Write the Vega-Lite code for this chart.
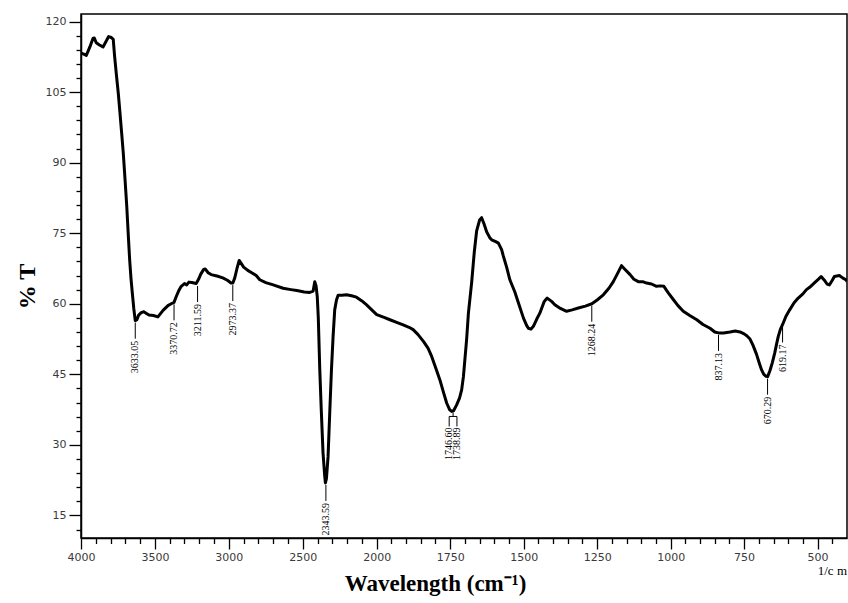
{
  "$schema": "https://vega.github.io/schema/vega-lite/v6.json",
  "width": 766,
  "height": 524,
  "autosize": {"type": "none"},
  "padding": {"left": 81, "top": 14, "right": 1, "bottom": 65},
  "background": "white",
  "title": {"text": "1/c m", "orient": "bottom", "anchor": "end", "frame": "group", "font": "Liberation Serif", "fontSize": 13, "fontWeight": "normal", "color": "black", "baseline": "alphabetic", "offset": -20},
  "config": {"view": {"stroke": "black", "strokeWidth": 1.5}},
  "datasets": {
    "spectrum": [
      {"wn":4000,"T":113.3},{"wn":3985,"T":113.1},{"wn":3964,"T":112.8},{"wn":3940,"T":114.6},{"wn":3919,"T":116.4},{"wn":3910,"T":116.5},{"wn":3897,"T":115.5},{"wn":3875,"T":115.0},{"wn":3851,"T":114.6},{"wn":3830,"T":115.8},{"wn":3813,"T":116.8},{"wn":3795,"T":116.6},{"wn":3782,"T":116.2},{"wn":3772,"T":112.4},{"wn":3760,"T":108.5},{"wn":3748,"T":104.8},{"wn":3737,"T":100.8},{"wn":3725,"T":96.3},{"wn":3714,"T":92.0},{"wn":3703,"T":86.8},{"wn":3691,"T":81.0},{"wn":3680,"T":74.5},{"wn":3671,"T":69.4},{"wn":3662,"T":65.4},{"wn":3653,"T":62.3},{"wn":3643,"T":59.0},{"wn":3633,"T":56.4},{"wn":3622,"T":56.6},{"wn":3610,"T":57.6},{"wn":3593,"T":58.1},{"wn":3575,"T":58.3},{"wn":3560,"T":58.0},{"wn":3540,"T":57.6},{"wn":3510,"T":57.5},{"wn":3480,"T":57.2},{"wn":3465,"T":57.8},{"wn":3445,"T":58.6},{"wn":3412,"T":59.6},{"wn":3390,"T":60.0},{"wn":3371,"T":60.3},{"wn":3355,"T":61.6},{"wn":3340,"T":62.7},{"wn":3322,"T":63.7},{"wn":3300,"T":64.3},{"wn":3285,"T":64.0},{"wn":3270,"T":64.6},{"wn":3250,"T":64.5},{"wn":3221,"T":64.3},{"wn":3205,"T":65.2},{"wn":3190,"T":66.3},{"wn":3170,"T":67.3},{"wn":3160,"T":67.4},{"wn":3140,"T":66.6},{"wn":3120,"T":66.2},{"wn":3080,"T":65.9},{"wn":3041,"T":65.5},{"wn":3010,"T":65.0},{"wn":2985,"T":64.4},{"wn":2973,"T":64.4},{"wn":2960,"T":65.5},{"wn":2945,"T":67.5},{"wn":2930,"T":69.2},{"wn":2921,"T":68.8},{"wn":2900,"T":67.8},{"wn":2872,"T":67.1},{"wn":2840,"T":66.5},{"wn":2815,"T":66.0},{"wn":2791,"T":65.1},{"wn":2750,"T":64.5},{"wn":2700,"T":64.0},{"wn":2633,"T":63.3},{"wn":2580,"T":63.0},{"wn":2540,"T":62.8},{"wn":2490,"T":62.5},{"wn":2453,"T":62.4},{"wn":2430,"T":62.7},{"wn":2419,"T":64.7},{"wn":2410,"T":63.8},{"wn":2402,"T":61.5},{"wn":2395,"T":57},{"wn":2385,"T":46},{"wn":2375,"T":37.5},{"wn":2363,"T":28.3},{"wn":2352,"T":23.5},{"wn":2347,"T":21.9},{"wn":2340,"T":22.8},{"wn":2329,"T":27.5},{"wn":2318,"T":36.5},{"wn":2306,"T":46},{"wn":2295,"T":53},{"wn":2284,"T":58.7},{"wn":2272,"T":60.8},{"wn":2261,"T":61.8},{"wn":2235,"T":61.8},{"wn":2205,"T":61.9},{"wn":2170,"T":61.7},{"wn":2137,"T":61.4},{"wn":2100,"T":60.6},{"wn":2070,"T":59.8},{"wn":2030,"T":58.6},{"wn":2000,"T":57.7},{"wn":1975,"T":57.1},{"wn":1955,"T":56.6},{"wn":1930,"T":56.0},{"wn":1910,"T":55.5},{"wn":1890,"T":55.0},{"wn":1876,"T":54.5},{"wn":1860,"T":53.5},{"wn":1841,"T":52.0},{"wn":1825,"T":50.5},{"wn":1813,"T":48.8},{"wn":1800,"T":46.5},{"wn":1785,"T":43.8},{"wn":1772,"T":41.0},{"wn":1762,"T":38.9},{"wn":1752,"T":37.5},{"wn":1745,"T":37.1},{"wn":1738,"T":37.3},{"wn":1728,"T":38.5},{"wn":1718,"T":40.0},{"wn":1711,"T":41.7},{"wn":1705,"T":44.5},{"wn":1700,"T":48.1},{"wn":1694,"T":52.5},{"wn":1688,"T":58.0},{"wn":1677,"T":64.5},{"wn":1668,"T":71.0},{"wn":1660,"T":75.5},{"wn":1650,"T":77.8},{"wn":1643,"T":78.3},{"wn":1635,"T":77.0},{"wn":1626,"T":75.3},{"wn":1615,"T":74.0},{"wn":1609,"T":73.6},{"wn":1595,"T":73.2},{"wn":1586,"T":72.9},{"wn":1575,"T":71.5},{"wn":1569,"T":70.1},{"wn":1558,"T":67.8},{"wn":1547,"T":65.1},{"wn":1530,"T":62.5},{"wn":1518,"T":60.2},{"wn":1501,"T":57.0},{"wn":1490,"T":55.4},{"wn":1484,"T":54.8},{"wn":1475,"T":54.6},{"wn":1467,"T":55.2},{"wn":1455,"T":56.8},{"wn":1445,"T":58.0},{"wn":1430,"T":60.5},{"wn":1420,"T":61.2},{"wn":1405,"T":60.5},{"wn":1394,"T":59.8},{"wn":1375,"T":59.0},{"wn":1354,"T":58.4},{"wn":1335,"T":58.7},{"wn":1314,"T":59.1},{"wn":1290,"T":59.5},{"wn":1268,"T":60.0},{"wn":1250,"T":60.8},{"wn":1229,"T":61.9},{"wn":1210,"T":63.3},{"wn":1195,"T":64.7},{"wn":1180,"T":66.5},{"wn":1167,"T":68.1},{"wn":1155,"T":67.3},{"wn":1138,"T":66.2},{"wn":1125,"T":65.2},{"wn":1110,"T":64.7},{"wn":1095,"T":64.7},{"wn":1082,"T":64.4},{"wn":1065,"T":64.2},{"wn":1048,"T":63.7},{"wn":1035,"T":63.8},{"wn":1023,"T":63.7},{"wn":1008,"T":62.3},{"wn":991,"T":60.9},{"wn":975,"T":59.6},{"wn":957,"T":58.4},{"wn":935,"T":57.5},{"wn":911,"T":56.6},{"wn":890,"T":55.6},{"wn":866,"T":54.8},{"wn":850,"T":54.0},{"wn":837,"T":53.8},{"wn":820,"T":53.8},{"wn":798,"T":54.0},{"wn":780,"T":54.2},{"wn":764,"T":54.0},{"wn":750,"T":53.6},{"wn":741,"T":53.2},{"wn":730,"T":52.5},{"wn":720,"T":51.2},{"wn":708,"T":49.3},{"wn":698,"T":47.3},{"wn":691,"T":46.0},{"wn":683,"T":45.0},{"wn":676,"T":44.6},{"wn":670,"T":44.5},{"wn":662,"T":45.8},{"wn":654,"T":47.5},{"wn":646,"T":49.5},{"wn":640,"T":51.3},{"wn":634,"T":53.0},{"wn":627,"T":54.5},{"wn":619,"T":55.6},{"wn":608,"T":57.3},{"wn":595,"T":58.7},{"wn":580,"T":60.2},{"wn":566,"T":61.2},{"wn":550,"T":62.1},{"wn":538,"T":63.0},{"wn":527,"T":63.5},{"wn":510,"T":64.5},{"wn":496,"T":65.3},{"wn":488,"T":65.8},{"wn":477,"T":65.0},{"wn":468,"T":64.2},{"wn":460,"T":64.0},{"wn":450,"T":65.0},{"wn":443,"T":65.8},{"wn":426,"T":66.0},{"wn":415,"T":65.5},{"wn":404,"T":65.1},{"wn":400,"T":64.8}
    ],
    "peaks": [
      {"wn":3633.05,"T":56.4,"label":"3633.05"},
      {"wn":3370.72,"T":60.3,"label":"3370.72"},
      {"wn":3211.59,"T":64.2,"label":"3211.59"},
      {"wn":2973.37,"T":64.4,"label":"2973.37"},
      {"wn":2343.59,"T":21.9,"label":"2343.59"},
      {"wn":1268.24,"T":60.0,"label":"1268.24"},
      {"wn":837.13,"T":53.8,"label":"837.13"},
      {"wn":670.29,"T":44.5,"label":"670.29"},
      {"wn":619.17,"T":55.6,"label":"619.17"}
    ],
    "fork": [
      {"wn":1746.60,"T":37.1,"label":"1746.60"},
      {"wn":1738.89,"T":37.1,"label":"1738.89"}
    ]
  },
  "encoding": {
    "x": {
      "field": "wn", "type": "quantitative",
      "scale": {"domain": [4000, 2000, 400], "range": [0, 295.7, 766], "nice": false, "zero": false},
      "axis": {
        "values": [4000,3900,3800,3700,3600,3500,3400,3300,3200,3100,3000,2900,2800,2700,2600,2500,2400,2300,2200,2100,2000,1950,1900,1850,1800,1750,1700,1650,1600,1550,1500,1450,1400,1350,1300,1250,1200,1150,1100,1050,1000,950,900,850,800,750,700,650,600,550,500,450],
        "format": "d",
        "labelExpr": "indexof([4000,3500,3000,2500,2000,1750,1500,1250,1000,750,500], datum.value) >= 0 ? datum.label : ''",
        "tickSize": {"condition": {"test": "indexof([4000,3500,3000,2500,2000,1750,1500,1250,1000,750,500], datum.value) >= 0", "value": 11}, "value": 5.5},
        "labelOverlap": false, "labelBound": false, "labelFlush": false,
        "labelFont": "DejaVu Sans", "labelFontSize": 11, "labelColor": "#3a3a3a", "labelPadding": 2,
        "domainColor": "black", "domainWidth": 1.5, "tickColor": "black", "tickWidth": 1.3, "grid": false,
        "title": "Wavelength (cm⁻¹)",
        "titleFont": "Liberation Serif", "titleFontSize": 23, "titleFontWeight": "bold", "titleColor": "black",
        "titleX": 354, "titleY": 52, "titleAlign": "center", "titleBaseline": "alphabetic"
      }
    },
    "y": {
      "field": "T", "type": "quantitative",
      "scale": {"domain": [10.2, 121.6], "nice": false, "zero": false},
      "axis": {
        "values": [12,15,18,21,24,27,30,33,36,39,42,45,48,51,54,57,60,63,66,69,72,75,78,81,84,87,90,93,96,99,102,105,108,111,114,117,120],
        "labelExpr": "datum.value % 15 === 0 ? datum.label : ''",
        "tickSize": {"condition": {"test": "datum.value % 15 === 0", "value": 12}, "value": 5},
        "labelOverlap": false, "labelBound": false, "labelFlush": false,
        "labelFont": "DejaVu Sans", "labelFontSize": 11, "labelColor": "#3a3a3a", "labelPadding": 3,
        "domainColor": "black", "domainWidth": 1.5, "tickColor": "black", "tickWidth": 1.3, "grid": false,
        "title": "% T",
        "titleFont": "Liberation Serif", "titleFontSize": 24, "titleFontWeight": "bold", "titleColor": "black",
        "titleAngle": 270, "titleX": -47, "titleY": 272, "titleAlign": "center", "titleBaseline": "alphabetic"
      }
    }
  },
  "layer": [
    {
      "data": {"name": "spectrum"},
      "mark": {"type": "line", "color": "black", "strokeWidth": 3, "strokeJoin": "round", "clip": true}
    },
    {
      "data": {"name": "peaks"},
      "mark": {"type": "rule", "color": "black", "strokeWidth": 1, "yOffset": 2, "y2Offset": 18},
      "encoding": {"y2": {"field": "T"}}
    },
    {
      "data": {"name": "peaks"},
      "mark": {"type": "text", "angle": 270, "align": "right", "baseline": "middle", "dx": -20, "font": "Liberation Serif", "fontSize": 10, "color": "black"},
      "encoding": {"text": {"field": "label"}}
    },
    {
      "data": {"name": "fork"},
      "transform": [{"filter": "datum.label == '1746.60'"}],
      "mark": {"type": "rule", "color": "black", "strokeWidth": 1, "xOffset": 1.9, "yOffset": 1, "y2Offset": 5},
      "encoding": {"y2": {"field": "T"}}
    },
    {
      "data": {"name": "fork"},
      "transform": [{"filter": "datum.label == '1746.60'"}],
      "mark": {"type": "rule", "color": "black", "strokeWidth": 1, "xOffset": -2, "x2Offset": 5.8, "yOffset": 5},
      "encoding": {"x2": {"field": "wn"}}
    },
    {
      "data": {"name": "fork"},
      "transform": [{"filter": "datum.label == '1746.60'"}],
      "mark": {"type": "rule", "color": "black", "strokeWidth": 1, "xOffset": -2, "yOffset": 5, "y2Offset": 15},
      "encoding": {"y2": {"field": "T"}}
    },
    {
      "data": {"name": "fork"},
      "transform": [{"filter": "datum.label == '1738.89'"}],
      "mark": {"type": "rule", "color": "black", "strokeWidth": 1, "xOffset": 3.5, "yOffset": 5, "y2Offset": 15},
      "encoding": {"y2": {"field": "T"}}
    },
    {
      "data": {"name": "fork"},
      "transform": [{"filter": "datum.label == '1746.60'"}],
      "mark": {"type": "text", "angle": 270, "align": "right", "baseline": "middle", "dx": -16, "dy": -2, "font": "Liberation Serif", "fontSize": 10, "color": "black"},
      "encoding": {"text": {"field": "label"}}
    },
    {
      "data": {"name": "fork"},
      "transform": [{"filter": "datum.label == '1738.89'"}],
      "mark": {"type": "text", "angle": 270, "align": "right", "baseline": "middle", "dx": -16, "dy": 4, "font": "Liberation Serif", "fontSize": 10, "color": "black"},
      "encoding": {"text": {"field": "label"}}
    }
  ]
}
